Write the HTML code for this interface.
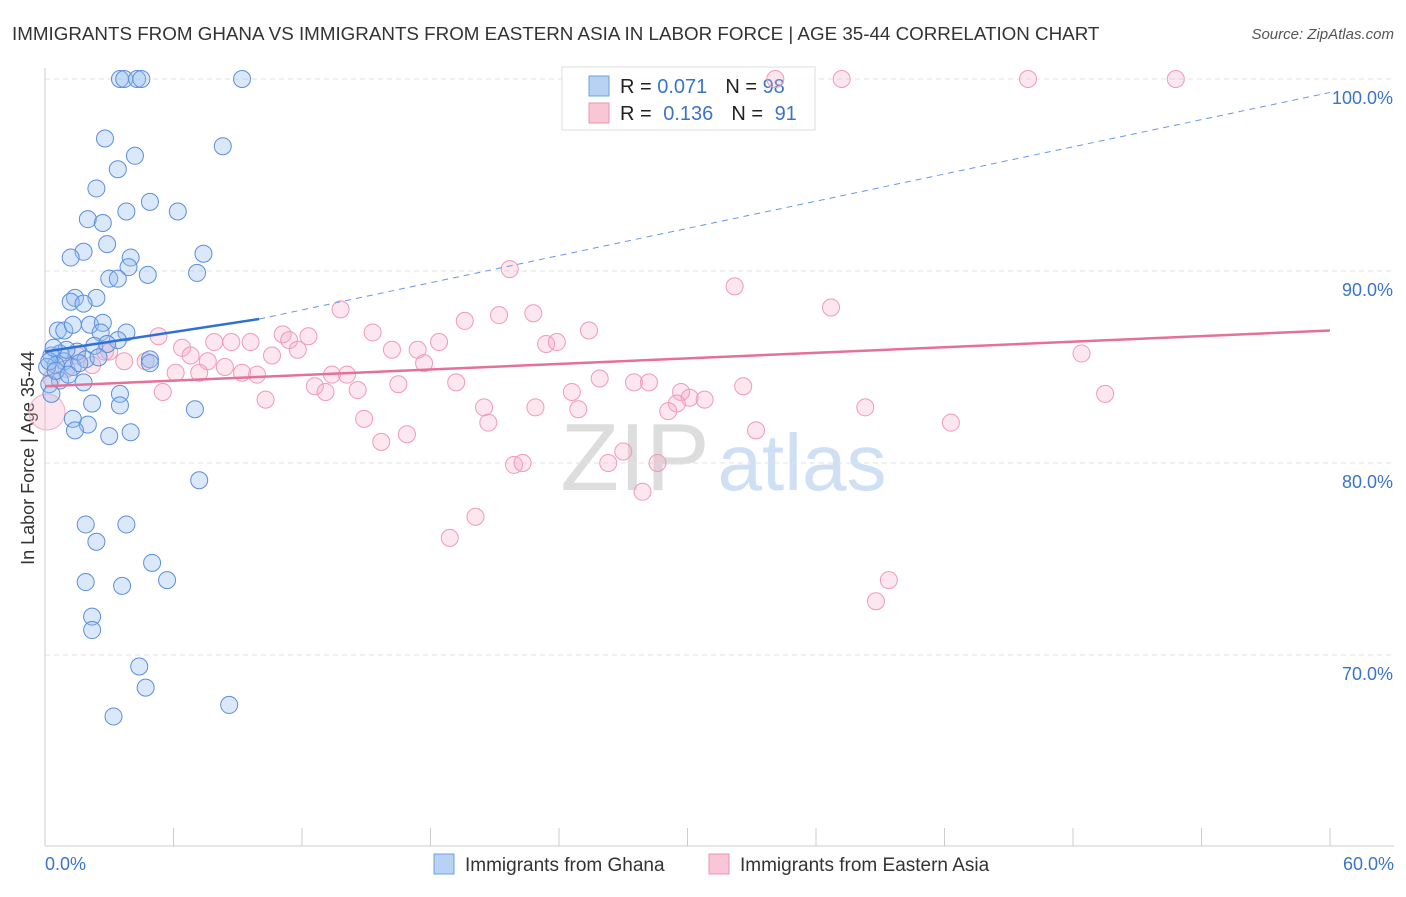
<!DOCTYPE html>
<html><head><meta charset="utf-8"><style>
body{margin:0;background:#fff;font-family:"Liberation Sans",sans-serif;}
svg text{font-family:"Liberation Sans",sans-serif;}
</style></head><body>
<svg id="chart" width="1406" height="892">
<text x="12" y="40" font-size="18.8" fill="#333">IMMIGRANTS FROM GHANA VS IMMIGRANTS FROM EASTERN ASIA IN LABOR FORCE | AGE 35-44 CORRELATION CHART</text>
<text x="1394" y="39" font-size="15" fill="#555" text-anchor="end" font-style="italic">Source: ZipAtlas.com</text>
<text x="34" y="458" font-size="18" fill="#333" text-anchor="middle" transform="rotate(-90 34 458)">In Labor Force | Age 35-44</text>
<g><text x="635" y="490" font-size="96" fill="#ddd" text-anchor="middle" font-family="Liberation Serif">ZIP</text><text x="802" y="490" font-size="80" fill="#cfe0f5" text-anchor="middle">atlas</text></g>
<g id="grid"></g><g id="axes"></g>
<g>
<rect x="562" y="67" width="253" height="63" fill="#fff" fill-opacity="0.85" stroke="#ddd"/>
<rect x="589" y="76" width="20" height="20" fill="#b7d2f3" stroke="#6ea0e0"/>
<rect x="589" y="103" width="20" height="20" fill="#f9c6d5" stroke="#ee93b0"/>
<text x="620" y="93" font-size="20" fill="#222">R = <tspan fill="#3a74c9">0.071</tspan><tspan dx="18">N = </tspan><tspan fill="#3a74c9">98</tspan></text>
<text x="620" y="120" font-size="20" fill="#222">R = <tspan fill="#3a74c9" dx="6">0.136</tspan><tspan dx="18">N = </tspan><tspan fill="#3a74c9" dx="6">91</tspan></text>
</g>
<g id="pts"></g><g id="lines"></g>
<g>
<rect x="434" y="854" width="20" height="20" fill="#b7d2f3" stroke="#6ea0e0"/>
<text x="465" y="871" font-size="19" fill="#333">Immigrants from Ghana</text>
<rect x="709" y="854" width="20" height="20" fill="#f9c6d5" stroke="#ee93b0"/>
<text x="740" y="871" font-size="19" fill="#333">Immigrants from Eastern Asia</text>
</g>
</svg>
<script>
const yTicks=[100,90,80,70];
const yTickLabels=["100.0%","90.0%","80.0%","70.0%"];
const xTickLabels=["0.0%","60.0%"];
const blueX=[3.5,3.7,4.3,4.5,9.2,2.8,8.3,4.2,3.4,2.4,4.9,3.8,6.2,2.0,2.7,2.9,1.8,7.4,1.2,4.0,3.9,3.0,3.4,4.8,7.1,1.4,2.4,1.2,1.8,2.1,2.7,0.6,0.9,1.3,2.6,3.8,3.4,2.3,2.9,0.7,0.3,1.5,0.9,0.5,0.1,1.3,1.9,4.9,4.9,0.7,1.8,0.2,0.3,3.5,3.5,2.2,7.0,1.3,2.0,1.4,4.0,3.0,7.2,1.9,3.8,2.4,5.0,1.9,5.7,3.6,2.2,2.2,4.4,4.7,8.6,3.2,0.2,0.5,1.0,1.6,2.5,0.4,1.1];
const blueY=[100,100,100,100,100,96.9,96.5,96.0,95.3,94.3,93.6,93.1,93.1,92.7,92.5,91.4,91.0,90.9,90.7,90.7,90.2,89.6,89.6,89.8,89.9,88.6,88.6,88.4,88.3,87.2,87.3,86.9,86.9,87.2,86.8,86.8,86.4,86.1,86.2,85.7,85.6,85.8,85.3,85.1,85.0,85.0,85.4,85.4,85.2,84.3,84.2,84.1,83.6,83.6,83.0,83.1,82.8,82.3,82.0,81.7,81.6,81.4,79.1,76.8,76.8,75.9,74.8,73.8,73.9,73.6,72.0,71.3,69.4,68.3,67.4,66.8,85.3,84.8,85.9,85.2,85.5,86.0,84.6];
const pinkX=[34.1,37.2,45.9,52.8,21.7,32.2,36.7,13.8,19.6,21.2,22.8,25.4,15.3,11.1,12.3,5.3,7.9,8.7,9.6,11.4,18.4,23.4,23.9,6.4,11.8,16.2,17.4,2.8,6.8,10.6,48.4,7.6,3.7,4.7,17.7,8.4,6.1,7.2,9.2,9.9,13.4,14.1,19.2,16.5,25.9,27.5,28.2,12.6,13.1,14.6,5.5,24.6,32.6,29.7,30.1,30.8,29.5,49.5,10.3,20.5,22.9,24.9,29.1,38.3,14.9,20.7,33.2,42.3,16.9,15.7,27.0,26.3,21.9,22.3,28.6,27.9,20.1,18.9,39.4,38.8,1.5,2.2,3.0,1.0,0.3];
const pinkY=[100,100,100,100,90.1,89.2,88.1,88.0,87.4,87.7,87.8,86.9,86.8,86.7,86.6,86.6,86.3,86.3,86.3,86.4,86.3,86.2,86.3,86.0,85.9,85.9,85.9,85.8,85.6,85.6,85.7,85.3,85.3,85.3,85.2,85.0,84.7,84.7,84.7,84.6,84.6,84.6,84.2,84.1,84.4,84.2,84.2,84.0,83.7,83.8,83.7,83.7,84.0,83.7,83.4,83.3,83.1,83.6,83.3,82.9,82.9,82.8,82.7,82.9,82.3,82.1,81.7,82.1,81.5,81.1,80.6,80.0,79.9,80.0,80.0,78.5,77.2,76.1,73.9,72.8,85.6,85.1,85.8,84.9,84.4];
const blueTrend=[[0,85.8],[10,87.5],[60,99.3]];
const pinkTrend=[[0,84.0],[60,86.9]];
const X=v=>45+v/60*1285, Y=v=>79+(100-v)*19.2;
const NS="http://www.w3.org/2000/svg";
function mk(p,t,a){const e=document.createElementNS(NS,t);for(const k in a)e.setAttribute(k,a[k]);p.appendChild(e);return e;}
const grid=document.getElementById('grid'),axes=document.getElementById('axes'),pts=document.getElementById('pts'),lines=document.getElementById('lines');
yTicks.forEach((t,i)=>{
 const l=mk(grid,'line',{x1:45,x2:1394,y1:Y(t),y2:Y(t),stroke:'#e2e2e2','stroke-dasharray':'5,4'});
 
 
 const tx=mk(axes,'text',{x:1393,y:Y(t)+25,'font-size':18,fill:'#3a74c9','text-anchor':'end'});tx.textContent=yTickLabels[i];
 
 
});
mk(axes,'line',{x1:45,x2:45,y1:68,y2:846,stroke:'#ccc'});
mk(axes,'line',{x1:45,x2:1394,y1:846,y2:846,stroke:'#ccc'});
for(let i=0;i<=10;i++){const x=X(i*6);mk(axes,'line',{x1:x,x2:x,y1:828,y2:846,stroke:'#ccc'});}
[[0,'start',45],[1,'end',1394]].forEach(([i,a,x])=>{const t=mk(axes,'text',{x:x,y:870,'font-size':18,fill:'#3a74c9','text-anchor':a});t.textContent=xTickLabels[i];
 
 });
pinkX.forEach((v,i)=>{const c=mk(pts,'circle',{cx:X(v),cy:Y(pinkY[i]),r:8.5,fill:'rgba(246,170,195,0.28)',stroke:'#f09ab6','stroke-width':1});
 
 });
const big=mk(pts,'circle',{cx:47,cy:412,r:18,fill:'rgba(246,170,195,0.3)',stroke:'#f2b0c4'});


blueX.forEach((v,i)=>{const c=mk(pts,'circle',{cx:X(v),cy:Y(blueY[i]),r:8.5,fill:'rgba(150,190,240,0.35)',stroke:'#5b8fdb','stroke-width':1});
 
 });
let b=mk(lines,'line',{x1:X(blueTrend[0][0]),y1:Y(blueTrend[0][1]),x2:X(blueTrend[1][0]),y2:Y(blueTrend[1][1]),stroke:'#2f6fd6','stroke-width':2.5});


b=mk(lines,'line',{x1:X(blueTrend[1][0]),y1:Y(blueTrend[1][1]),x2:X(blueTrend[2][0]),y2:Y(blueTrend[2][1]),stroke:'#6a98dd','stroke-width':1,'stroke-dasharray':'6,5'});


const p=mk(lines,'line',{x1:X(pinkTrend[0][0]),y1:Y(pinkTrend[0][1]),x2:X(pinkTrend[1][0]),y2:Y(pinkTrend[1][1]),stroke:'#e5709a','stroke-width':2.5});


</script>
</body></html>
